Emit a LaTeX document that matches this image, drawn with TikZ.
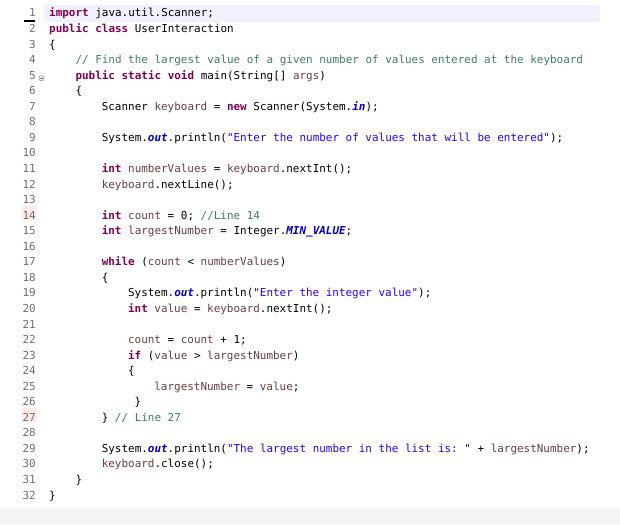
\documentclass[tikz,border=0pt]{standalone}
\usepackage{fontspec}
\setmonofont{DejaVu Sans Mono}
\definecolor{kwc}{HTML}{7F0055}
\definecolor{cmc}{HTML}{3F7F5F}
\definecolor{stc}{HTML}{2A00FF}
\definecolor{fdc}{HTML}{0000C0}
\definecolor{vrc}{HTML}{6A3E3E}
\definecolor{lnc}{HTML}{707070}
\newcommand\kw[1]{\textcolor{kwc}{\bfseries #1}}
\newcommand\cm[1]{\textcolor{cmc}{#1}}
\newcommand\stq[1]{\textcolor{stc}{#1}}
\newcommand\fd[1]{\textcolor{fdc}{\bfseries\itshape #1}}
\newcommand\vr[1]{\textcolor{vrc}{#1}}
\begin{document}
\begin{tikzpicture}[x=1pt,y=-1pt,
  code/.style={anchor=base west,inner sep=0pt,font=\ttfamily\fontsize{10.95}{12}\selectfont},
  num/.style={anchor=base east,inner sep=0pt,text=lnc,font=\ttfamily\fontsize{11}{12}\selectfont}]
\useasboundingbox (0,0) rectangle (620,524);
\fill[white] (0,0) rectangle (620,524);
\fill[blue!6] (44,5) rectangle (600,22);
\fill[pink!35] (22,206) rectangle (37,220);
\fill[pink!35] (22,408) rectangle (37,422);
\fill[gray!8] (0,507) rectangle (620,524);
\draw[line width=1.3pt] (24,21) -- (35,21);
\foreach \n in {1,...,32}{\node[num] (n\n) at (36,{17+(\n-1)*15.55}) {\n};}
\draw[lnc,line width=0.4pt] (41.5,78.3) circle (2.6pt);
\draw[lnc,line width=0.5pt] (39.8,78.3) -- (43.2,78.3);
\def\L#1#2#3{\node[code] (c#1) at ({49+26.3*#2},{17+(#1-1)*15.55}) {#3};}
\L{1}{0}{\kw{import} java.util.Scanner;}
\L{2}{0}{\kw{public} \kw{class} UserInteraction}
\L{3}{0}{\{}
\L{4}{1}{\cm{// Find the largest value of a given number of values entered at the keyboard}}
\L{5}{1}{\kw{public} \kw{static} \kw{void} main(String[] \vr{args})}
\L{6}{1}{\{}
\L{7}{2}{Scanner \vr{keyboard} = \kw{new} Scanner(System.\fd{in});}
\L{9}{2}{System.\fd{out}.println(\stq{"Enter the number of values that will be entered"});}
\L{11}{2}{\kw{int} \vr{numberValues} = \vr{keyboard}.nextInt();}
\L{12}{2}{\vr{keyboard}.nextLine();}
\L{14}{2}{\kw{int} \vr{count} = 0; \cm{//Line 14}}
\L{15}{2}{\kw{int} \vr{largestNumber} = Integer.\fd{MIN\_VALUE};}
\L{17}{2}{\kw{while} (\vr{count} < \vr{numberValues})}
\L{18}{2}{\{}
\L{19}{3}{System.\fd{out}.println(\stq{"Enter the integer value"});}
\L{20}{3}{\kw{int} \vr{value} = \vr{keyboard}.nextInt();}
\L{22}{3}{\vr{count} = \vr{count} + 1;}
\L{23}{3}{\kw{if} (\vr{value} > \vr{largestNumber})}
\L{24}{3}{\{}
\L{25}{4}{\vr{largestNumber} = \vr{value};}
\L{26}{3}{\hspace{6.6pt}\}}
\L{27}{2}{\} \cm{// Line 27}}
\L{29}{2}{System.\fd{out}.println(\stq{"The largest number in the list is: "} + \vr{largestNumber});}
\L{30}{2}{\vr{keyboard}.close();}
\L{31}{1}{\}}
\L{32}{0}{\}}
\end{tikzpicture}
\end{document}
